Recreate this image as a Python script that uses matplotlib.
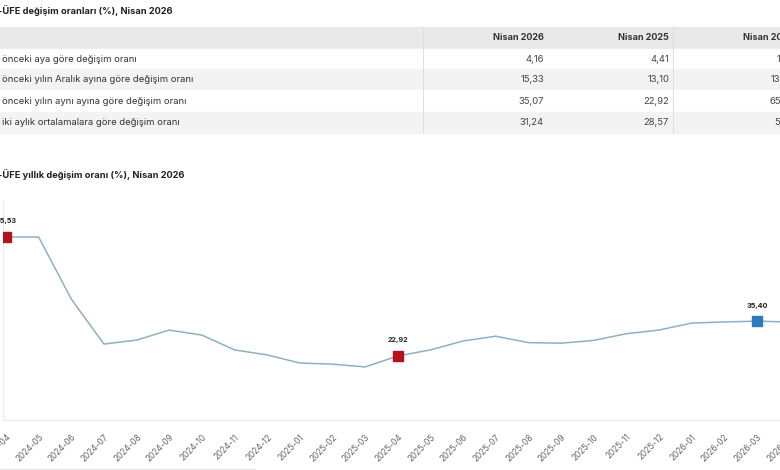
import matplotlib
matplotlib.use("Agg")
import matplotlib.pyplot as plt
from matplotlib.patches import Rectangle

plt.rcParams["font.family"] = ["Inter", "DejaVu Sans"]

# ---- data ----
table_title = "-ÜFE değişim oranları (%), Nisan 2026"
row_labels = [
    "önceki aya göre değişim oranı",
    "önceki yılın Aralık ayına göre değişim oranı",
    "önceki yılın aynı ayına göre değişim oranı",
    "iki aylık ortalamalara göre değişim oranı",
]
col_headers = ["Nisan 2026", "Nisan 2025", "Nisan 20"]
vals_2026 = ["4,16", "15,33", "35,07", "31,24"]
vals_2025 = ["4,41", "13,10", "22,92", "28,57"]
vals_2024 = ["1", "13", "65", "5"]  # cut off at the right edge

chart_title = "-ÜFE yıllık değişim oranı (%), Nisan 2026"
months = ["2024-04", "2024-05", "2024-06", "2024-07", "2024-08", "2024-09",
          "2024-10", "2024-11", "2024-12", "2025-01", "2025-02", "2025-03",
          "2025-04", "2025-05", "2025-06", "2025-07", "2025-08", "2025-09",
          "2025-10", "2025-11", "2025-12", "2026-01", "2026-02", "2026-03",
          "2026-04"]
annual = [65.53, 65.50, 43.3, 27.2, 28.6, 32.2, 30.4, 25.1, 23.3, 20.4, 20.0,
          19.0, 22.92, 25.1, 28.3, 30.0, 27.7, 27.5, 28.5, 30.9, 32.2, 34.7,
          35.1, 35.40, 35.07]
marked = ["2024-04", "2025-04", "2026-03"]
marked_labels = ["65,53", "22,92", "35,40"]

W, H = 780, 470
fig = plt.figure(figsize=(W / 100, H / 100), dpi=100)
fig.patch.set_facecolor("white")


def fx(x):
    return x / W


def fy(y):
    return 1 - y / H


# ---- table ----
fig.text(fx(-2), fy(11), table_title, fontsize=6.7, fontweight="bold",
         color="#222222", va="center", ha="left")
row_top = [27, 49, 69, 90, 112]
row_bot = [49, 69, 90, 112, 133]
fills = ["#e9e9e9", "#ffffff", "#f3f3f3", "#ffffff", "#f3f3f3"]
for t, b, c in zip(row_top, row_bot, fills):
    fig.patches.append(Rectangle((0, fy(b)), 1, (b - t) / H, color=c,
                                 transform=fig.transFigure, zorder=0))
for xs in (423, 673):
    fig.add_artist(plt.Line2D([fx(xs)] * 2, [fy(27), fy(133)], color="#dddddd",
                              lw=0.7, transform=fig.transFigure))
head_y = (row_top[0] + row_bot[0]) / 2
fig.text(fx(544), fy(head_y), col_headers[0], fontsize=6.5, fontweight="bold",
         color="#333333", ha="right", va="center")
fig.text(fx(669), fy(head_y), col_headers[1], fontsize=6.5, fontweight="bold",
         color="#333333", ha="right", va="center")
fig.text(fx(743), fy(head_y), col_headers[2], fontsize=6.5, fontweight="bold",
         color="#333333", ha="left", va="center")
col3_x = [777, 771, 770, 774]
for i, lab in enumerate(row_labels):
    yc = (row_top[i + 1] + row_bot[i + 1]) / 2
    fig.text(fx(2), fy(yc), lab, fontsize=6.8, color="#333333", va="center")
    fig.text(fx(544), fy(yc), vals_2026[i], fontsize=6.8, color="#444444",
             ha="right", va="center")
    fig.text(fx(669), fy(yc), vals_2025[i], fontsize=6.8, color="#444444",
             ha="right", va="center")
    fig.text(fx(col3_x[i]), fy(yc), vals_2024[i], fontsize=6.8, color="#444444",
             ha="left", va="center")

# ---- line chart ----
fig.text(fx(-2), fy(175), chart_title, fontsize=6.7, fontweight="bold",
         color="#222222", va="center", ha="left")

px_per_month = 32.65
ax_left, ax_right = 3, 850
ax_top, ax_bot = 200, 420
ax = fig.add_axes([fx(ax_left), fy(ax_bot), (ax_right - ax_left) / W,
                   (ax_bot - ax_top) / H])
x0 = -(6 - ax_left) / px_per_month
ax.set_xlim(x0, x0 + (ax_right - ax_left) / px_per_month)
ax.set_ylim(0, (ax_bot - ax_top) / 2.793)

xs = list(range(len(months)))
ax.plot(xs, annual, color="#8fb0c2", lw=1.1, zorder=2)
colors = ["#b3141c", "#b3141c", "#2b7bbd"]
for m, lab, c in zip(marked, marked_labels, colors):
    i = months.index(m)
    ax.plot(i, annual[i], marker="s", ms=6.6, color=c, zorder=3)
    ax.annotate(lab, (i, annual[i]), xytext=(0, 9), textcoords="offset points",
                ha="center", va="bottom", fontsize=5.2, fontweight="bold",
                color="#222222")

for s in ("top", "right"):
    ax.spines[s].set_visible(False)
for s in ("left", "bottom"):
    ax.spines[s].set_color("#e8e8e8")
    ax.spines[s].set_linewidth(0.8)
ax.set_yticks([])
ax.set_xticks(xs)
ax.set_xticklabels(months, rotation=45, ha="right", va="top",
                   rotation_mode="anchor", fontsize=6.0, color="#666666")
ax.tick_params(axis="x", length=0, pad=9)

fig.add_artist(plt.Line2D([0, fx(255)], [fy(469)] * 2, color="#e6e6e6",
                          lw=0.8, transform=fig.transFigure))

fig.savefig("out.png", dpi=100, facecolor="white")
